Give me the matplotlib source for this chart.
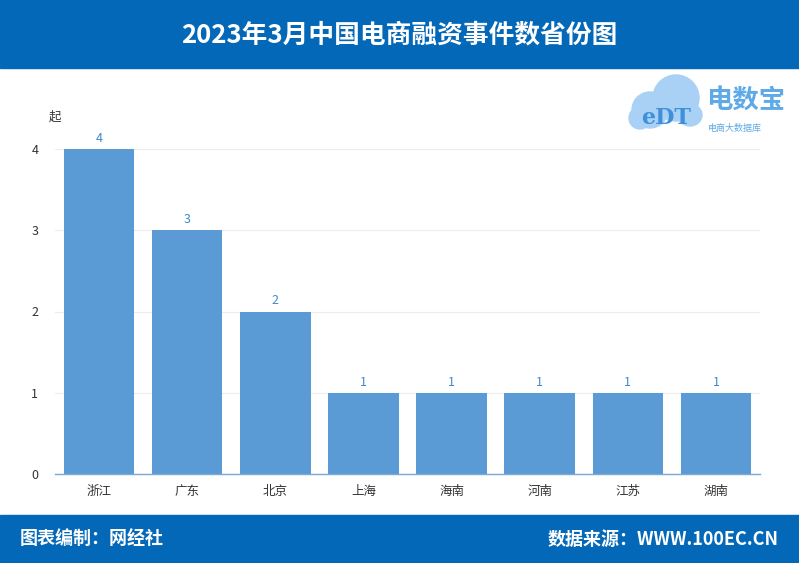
import matplotlib
matplotlib.use("Agg")
import matplotlib.pyplot as plt
from matplotlib.patches import Rectangle, Ellipse

plt.rcParams['font.family'] = ['Noto Sans CJK SC', 'DejaVu Sans']

provinces = ["浙江", "广东", "北京", "上海", "海南", "河南", "江苏", "湖南"]
counts = [4, 3, 2, 1, 1, 1, 1, 1]
title = "2023年3月中国电商融资事件数省份图"
unit = "起"
footer_left = "图表编制：网经社"
footer_right = "数据来源：WWW.100EC.CN"

W, H = 799, 563
fig = plt.figure(figsize=(W / 100, H / 100), dpi=100)
fig.patch.set_facecolor("white")

band = "#0368b7"
# header / footer bands
fig.add_artist(Rectangle((0, 1 - 68 / H), 1, 68 / H, transform=fig.transFigure, color=band, zorder=0))
fig.add_artist(Rectangle((0, 0), 1, 48 / H, transform=fig.transFigure, color=band, zorder=0))
fig.text(0.5, 1 - 35 / H, title, color="white", fontsize=18.5, fontweight="bold", ha="center", va="center")
fig.text(20 / W, 24 / H, footer_left, color="white", fontsize=13, fontweight="bold", ha="left", va="center")
fig.text(779 / W, 24 / H, footer_right, color="white", fontsize=13, fontweight="bold", ha="right", va="center")

# logo (approximate)
for cx, cy, w, h in [(650, 110, 36, 36), (676, 98, 46, 46), (640, 118, 22, 22), (690, 115, 24, 22)]:
    fig.add_artist(Ellipse((cx / W, 1 - cy / H), w / W, h / H, transform=fig.transFigure,
                           color="#a9d1f5", zorder=1))
fig.text(666 / W, 1 - 118 / H, "eDT", color="#3f8fdc", fontsize=16, fontweight="bold",
         ha="center", va="center", family="DejaVu Serif", zorder=2)
fig.text(706 / W, 1 - 101 / H, "电数宝", color="#5ea9e8", fontsize=19, fontweight="bold", ha="left", va="center")
fig.text(708 / W, 1 - 128 / H, "电商大数据库", color="#5ea9e8", fontsize=6.5, ha="left", va="center")

ax = fig.add_axes([55 / W, (H - 474) / H, (760 - 55) / W, (474 - 149) / H])
x = list(range(len(provinces)))
ax.bar(x, counts, width=0.8, color="#5b9bd5", zorder=2)
ax.set_xlim(-0.5, len(provinces) - 0.5)
ax.set_ylim(0, 4)
ax.set_yticks([0, 1, 2, 3, 4])
ax.set_xticks(x)
ax.set_xticklabels(provinces)
ax.tick_params(axis="both", length=0, labelsize=9, colors="#333333")
ax.tick_params(axis="x", pad=8)
ax.tick_params(axis="y", pad=12)
ax.grid(axis="y", color="#ececec", linewidth=0.8, zorder=0)
for s in ["top", "right", "left"]:
    ax.spines[s].set_visible(False)
ax.spines["bottom"].set_color("#7aa8d8")
ax.spines["bottom"].set_linewidth(1)
for xi, v in zip(x, counts):
    ax.text(xi, v + 0.05, str(v), ha="center", va="bottom", fontsize=9, color="#3f8ad0", clip_on=False)
fig.text(55 / W, 1 - 117 / H, unit, fontsize=9, color="#333333", ha="center", va="center")

fig.savefig("out.png", dpi=100)
